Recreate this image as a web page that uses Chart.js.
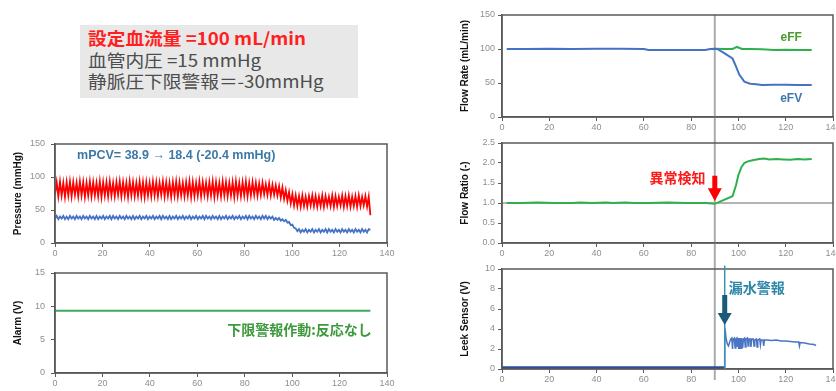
<!DOCTYPE html>
<html>
<head>
<meta charset="utf-8">
<script src="https://cdn.jsdelivr.net/npm/chart.js@4.4.1/dist/chart.umd.min.js"></script>
<style>
html, body { margin: 0; padding: 0; background: #fff; width: 836px; height: 391px; overflow: hidden; position: relative; }
canvas { position: absolute; }
#note { position: absolute; left: 80px; top: 25px; width: 278px; height: 73px; background: #e8e8e8;
        font-family: "Noto Sans CJK JP", sans-serif; font-size: 17px; line-height: 21.5px; color: #4d4d4d; box-sizing: border-box; padding: 2px 0 0 8px; }
#note div { transform: scaleX(1.1); transform-origin: left; white-space: nowrap; }
#note .red { color: #ff1f1f; font-weight: bold; }
</style>
</head>
<body>
<div id="note">
  <div class="red">設定血流量 =100 mL/min</div>
  <div>血管内圧 =15 mmHg</div>
  <div>静脈圧下限警報＝-30mmHg</div>
</div>
<canvas id="cPress" width="420" height="134" style="left:0;top:128px"></canvas>
<canvas id="cAlarm" width="420" height="129" style="left:0;top:262px"></canvas>
<canvas id="cRate" width="430" height="131" style="left:420px;top:0"></canvas>
<canvas id="cRatio" width="430" height="131" style="left:420px;top:131px"></canvas>
<canvas id="cLeek" width="430" height="129" style="left:420px;top:262px"></canvas>
<script>
// pressure logger, one sample every 0.7 s
const SAMPLE_DT = 0.7;
const arterialPressure = [
  74,92,71,93,72,91,70,92,72,93,71,92,73,91,71,93,72,92,70,91,
  72,93,71,92,72,91,71,93,70,92,72,92,71,93,72,91,71,92,73,93,
  71,92,72,91,70,93,72,92,71,91,72,93,71,92,70,92,72,91,71,93,
  72,92,71,91,73,93,71,92,72,91,70,92,72,93,71,92,72,91,71,92,
  72,93,70,92,71,91,72,93,71,92,73,91,71,92,72,93,70,92,72,91,
  71,93,72,92,71,91,72,92,70,93,72,91,71,92,72,93,71,91,72,92,
  73,91,72,90,73,91,74,89,73,90,72,88,73,87,72,86,69,84,67,80,
  64,77,60,74,57,72,56,71,55,72,56,70,55,71,57,72,56,71,55,70,
  56,72,55,71,57,70,56,72,55,71,56,70,57,72,55,71,56,72,55,70,
  56,71,55,72,56,70,57,71,55,70,42
];
const venousPressure = [
  37,41,36,40,37,41,36,40,36,41,37,40,36,41,37,40,36,41,37,40,
  36,41,37,40,36,41,36,40,37,41,36,40,37,41,36,41,37,40,36,41,
  37,40,36,41,37,40,36,41,36,40,37,41,36,40,37,41,36,40,37,41,
  36,40,37,41,36,41,37,40,36,41,36,40,37,41,36,40,37,41,36,40,
  37,41,36,40,37,41,36,40,37,41,36,41,37,40,36,41,37,40,36,41,
  36,40,37,41,36,40,37,41,36,40,37,41,36,40,37,41,36,41,37,40,
  36,41,37,40,36,41,37,41,36,40,37,40,35,38,35,38,34,36,33,35,
  31,32,27,28,23,22,18,21,16,20,17,21,16,20,17,21,16,20,17,21,
  16,20,17,21,16,21,17,20,16,21,17,20,16,21,17,20,16,21,17,20,
  16,21,17,20,16,21,17,20,16,21,20
];

const alarmTime = [0, 40, 80, 133];
const alarmVolt = [9.35, 9.35, 9.35, 9.35];

const flowTime = [2, 10, 20, 30, 40, 50, 60, 62, 70, 80, 86, 88, 90, 91, 94, 97.5, 99, 100.4, 102.5, 105, 107.5, 110, 115, 120, 125, 131];
const eFV = [100, 100, 100.5, 100, 100.5, 100.5, 100, 98.5, 98.5, 98.5, 98.5, 100, 100.5, 100, 94, 86, 74, 62, 52, 49, 48, 47, 47.5, 47.5, 47, 47];
const effTime = [90, 94, 97.5, 99.4, 101.5, 105, 110, 115, 120, 125, 131];
const eFF = [100.5, 100, 100, 103, 100, 100, 99.5, 98.5, 99, 98.5, 98.5];

const ratioTime = [2, 8, 15, 22, 30, 33, 38, 44, 47, 52, 56, 62, 70, 78, 86, 90, 97.5, 99, 100, 101.3, 102.5, 104, 106, 108.8, 111, 113, 116, 119, 122, 125, 128, 131];
const flowRatio = [1.0, 1.0, 1.01, 1.0, 1.0, 1.01, 1.0, 1.01, 1.0, 1.01, 1.0, 1.0, 1.01, 1.0, 1.0, 0.98, 1.17, 1.45, 1.7, 1.9, 2.0, 2.04, 2.07, 2.1, 2.11, 2.09, 2.1, 2.09, 2.08, 2.1, 2.09, 2.1];

const baseTime = [0, 30, 60, 94];
const baseVolt = [0.12, 0.12, 0.12, 0.12];
const leekTime = [94.0, 94.2, 94.5, 94.8, 95.3, 95.8, 96.3, 96.8, 97.2, 97.5, 97.8, 98.3, 98.6, 98.9, 99.3, 99.6, 99.9, 100.1, 100.3, 100.5,
  100.7, 100.9, 101.1, 101.3, 101.5, 101.8, 102.1, 102.6, 102.9, 103.2, 103.8, 104.1, 104.4, 105.0, 105.3, 105.6, 106.3, 106.6, 106.9, 107.6,
  107.9, 108.2, 109.0, 109.3, 109.6, 110.4, 110.7, 111.0, 112, 114, 116, 118, 120, 122, 124, 125.5, 125.8, 126.1, 128, 130,
  132, 132.8];
const leekVolt = [0.12, 3.3, 3.7, 3.0, 2.5, 2.3, 2.7, 3.0, 3.1, 2.0, 3.0, 3.1, 2.1, 3.0, 3.1, 2.2, 3.1, 2.0, 3.1, 2.0,
  3.0, 2.0, 3.1, 2.0, 3.0, 2.1, 3.0, 3.1, 2.2, 3.0, 3.1, 2.3, 3.0, 3.0, 2.2, 3.0, 3.0, 2.3, 2.9, 3.0,
  2.2, 2.9, 3.0, 2.4, 2.9, 2.9, 2.3, 2.9, 2.9, 2.85, 2.9, 2.8, 2.8, 2.75, 2.7, 2.7, 2.3, 2.65, 2.6, 2.5,
  2.45, 2.35];

const pts = (xs, ys) => xs.map((x, i) => ({x: x, y: ys[i]}));
const sampled = ys => ys.map((y, i) => ({x: +(i * SAMPLE_DT).toFixed(1), y: y}));

const tickFont = {family: 'Liberation Sans', size: 9};
const titleFont = {family: 'Liberation Sans', size: 10, weight: 'bold'};
const AXIS = '#595959';

function xAxis() {
  return {
    type: 'linear', min: 0, max: 140,
    ticks: {stepSize: 20, color: '#8f8f8f', font: tickFont, padding: 1, maxRotation: 0},
    grid: {drawOnChartArea: false, tickLength: 4, color: AXIS},
    border: {color: AXIS, width: 1.5},
    afterFit: s => { s.height = 14; s.paddingLeft = 0; s.paddingRight = 0; }
  };
}

function yAxis(text, max, step, width, titlePad, tickPad, decimals) {
  return {
    type: 'linear', min: 0, max: max,
    ticks: {stepSize: step, color: '#8f8f8f', font: tickFont, padding: tickPad,
            callback: v => decimals ? v.toFixed(decimals) : v},
    grid: {drawOnChartArea: false, tickLength: 4, color: AXIS},
    border: {color: AXIS, width: 1.5},
    title: {display: true, text: text, font: titleFont, color: '#111', padding: {top: titlePad, bottom: 0}},
    afterFit: s => { s.width = width; s.paddingTop = 0; s.paddingBottom = 0; }
  };
}

// frame, reference lines, arrows and labels placed in data units
function marks(m) {
  return {
    id: 'marks',
    beforeDatasetsDraw(chart) {
      const {ctx, chartArea: a, scales: {x, y}} = chart;
      ctx.save();
      (m.hlines || []).forEach(h => {
        const py = y.getPixelForValue(h.y);
        ctx.strokeStyle = h.color; ctx.lineWidth = h.width;
        ctx.beginPath(); ctx.moveTo(a.left, py); ctx.lineTo(a.right, py); ctx.stroke();
      });
      (m.vlines || []).forEach(v => {
        const px = x.getPixelForValue(v.x);
        const top = v.top === 'area' ? a.top : 0;
        const bot = v.bottom === 'canvas' ? chart.height : a.bottom + v.bottom;
        ctx.strokeStyle = v.color; ctx.lineWidth = v.width;
        ctx.beginPath(); ctx.moveTo(px, top); ctx.lineTo(px, bot); ctx.stroke();
      });
      ctx.restore();
    },
    afterDatasetsDraw(chart) {
      const {ctx, chartArea: a, scales: {x, y}} = chart;
      ctx.save();
      ctx.strokeStyle = AXIS; ctx.lineWidth = 1.5;
      ctx.strokeRect(a.left, a.top, a.right - a.left, a.bottom - a.top);
      (m.segs || []).forEach(s => {
        const px = x.getPixelForValue(s.x);
        ctx.strokeStyle = s.color; ctx.lineWidth = s.width;
        ctx.beginPath(); ctx.moveTo(px, y.getPixelForValue(s.y0)); ctx.lineTo(px, y.getPixelForValue(s.y1)); ctx.stroke();
      });
      (m.arrows || []).forEach(ar => {
        const px = x.getPixelForValue(ar.x);
        const t = y.getPixelForValue(ar.yTop), h = y.getPixelForValue(ar.yHead), tip = y.getPixelForValue(ar.yTip);
        const sw = 5, hw = 14;
        ctx.fillStyle = ar.color;
        ctx.beginPath();
        ctx.moveTo(px - sw / 2, t); ctx.lineTo(px + sw / 2, t); ctx.lineTo(px + sw / 2, h);
        ctx.lineTo(px + hw / 2, h); ctx.lineTo(px, tip); ctx.lineTo(px - hw / 2, h); ctx.lineTo(px - sw / 2, h);
        ctx.closePath(); ctx.fill();
      });
      (m.texts || []).forEach(tx => {
        ctx.font = tx.font; ctx.fillStyle = tx.color;
        ctx.textAlign = tx.align || 'center'; ctx.textBaseline = 'middle';
        ctx.fillText(tx.text, x.getPixelForValue(tx.x), y.getPixelForValue(tx.y));
      });
      ctx.restore();
    }
  };
}

function draw(id, datasets, yOpts, pad, m) {
  return new Chart(document.getElementById(id), {
    type: 'line',
    data: {datasets: datasets},
    options: {
      responsive: false,
      animation: false,
      layout: {padding: pad},
      elements: {point: {radius: 0}, line: {tension: 0}},
      plugins: {legend: {display: false}, tooltip: {enabled: false}},
      scales: {x: xAxis(), y: yOpts}
    },
    plugins: [marks(m)]
  });
}

const JP = '"Noto Sans CJK JP"';

draw('cPress', [
  {data: sampled(arterialPressure), borderColor: '#ff0000', borderWidth: 1.8},
  {data: sampled(venousPressure), borderColor: '#4472c4', borderWidth: 1.8}
], yAxis('Pressure (mmHg)', 150, 50, 55, 12.5, 6), {left: 0, top: 16, right: 33, bottom: 5}, {
  texts: [{text: 'mPCV= 38.9 → 18.4 (-20.4 mmHg)', x: 9.3, y: 133, align: 'left', color: '#3b7aa8', font: 'bold 12.5px "Liberation Sans"'}]
});

draw('cAlarm', [
  {data: pts(alarmTime, alarmVolt), borderColor: '#3daa5c', borderWidth: 2}
], yAxis('Alarm (V)', 15, 5, 55, 12.5, 6), {left: 0, top: 11, right: 33, bottom: 4}, {
  texts: [{text: '下限警報作動:反応なし', x: 133.6, y: 6.45, align: 'right', color: '#3c9a3c', font: 'bold 14px ' + JP}]
});

draw('cRate', [
  {data: pts(flowTime, eFV), borderColor: '#4472c4', borderWidth: 2},
  {data: pts(effTime, eFF), borderColor: '#2fb04e', borderWidth: 2}
], yAxis('Flow Rate (mL/min)', 150, 50, 82, 39, 3), {left: 0, top: 15, right: 17, bottom: 0}, {
  vlines: [{x: 90, top: 'area', bottom: 'canvas', color: '#ababab', width: 2}],
  texts: [
    {text: 'eFF', x: 122.3, y: 117, color: '#4b9a2f', font: 'bold 12px "Liberation Sans"'},
    {text: 'eFV', x: 122.3, y: 26.5, color: '#3d79b0', font: 'bold 12px "Liberation Sans"'}
  ]
});

draw('cRatio', [
  {data: pts(ratioTime, flowRatio), borderColor: '#2fb04e', borderWidth: 2}
], yAxis('Flow Ratio (-)', 2.5, 0.5, 82, 39, 3, 1), {left: 0, top: 12, right: 17, bottom: 5}, {
  hlines: [{y: 1.0, color: '#b4b4b4', width: 2}],
  vlines: [{x: 90, top: 'canvas', bottom: 'canvas', color: '#ababab', width: 2}],
  arrows: [{x: 90, yTop: 1.68, yHead: 1.37, yTip: 1.05, color: '#ff0000'}],
  texts: [{text: '異常検知', x: 74.2, y: 1.64, color: '#ff1a1a', font: 'bold 14px ' + JP}]
});

draw('cLeek', [
  {data: pts(baseTime, baseVolt), borderColor: '#2b4f96', borderWidth: 3},
  {data: pts(leekTime, leekVolt), borderColor: '#4a74c4', borderWidth: 1.5}
], yAxis('Leek Sensor (V)', 10, 2, 82, 39, 3), {left: 0, top: 7, right: 17, bottom: 8}, {
  vlines: [{x: 90, top: 'canvas', bottom: 11, color: '#ababab', width: 2}],
  segs: [{x: 94.2, y0: 10.35, y1: 0, color: '#3a93b5', width: 1.5}],
  arrows: [{x: 94.2, yTop: 7.4, yHead: 5.6, yTip: 4.4, color: '#1b5b7a'}],
  texts: [{text: '漏水警報', x: 95.9, y: 8.15, align: 'left', color: '#2c86a8', font: 'bold 14px ' + JP}]
});
</script>
</body>
</html>
